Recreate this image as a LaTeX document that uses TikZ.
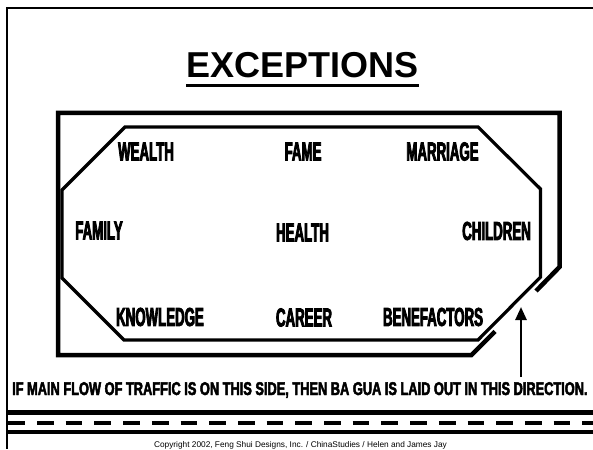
\documentclass[tikz,border=0pt]{standalone}
\usepackage{fontspec}
\setmainfont{Liberation Sans}
\newfontfamily\baguafont{Liberation Sans Bold}[FakeStretch=0.51,FakeBold=3]
\newfontfamily\notefont{Liberation Sans Bold}[FakeStretch=0.692,FakeBold=2.5]
\usetikzlibrary{arrows.meta}

\begin{document}
\begin{tikzpicture}[x=1pt,y=-1pt,
    area/.style={inner sep=0pt,font=\baguafont\fontsize{26}{26}\selectfont},
    wall/.style={line width=4.5pt,line join=miter},
    road/.style={line width=4.5pt}]
                \fill[white] (0,0) rectangle (593,449);
                \useasboundingbox (0,0) rectangle (593,449);

                % page frame
                \draw[line width=1.8pt] (593,8.3) -- (7,8.3) -- (7,449);

                \node[inner sep=0pt,font=\bfseries\fontsize{36}{36}\selectfont] (title) at (302.5,65) {EXCEPTIONS};
                \draw[line width=3pt] ([yshift=-8pt]title.base west) -- ([yshift=-8pt]title.base east);

                % building, open at the door
                \draw[wall] (536,291) -- (559.5,267) -- (559.5,113) -- (58,113) -- (58,355) -- (471.5,355) -- (495,331.5);

                % ba gua
                \draw[line width=3.2pt,line join=miter] (125,127) -- (478,127) -- (540.5,189) -- (540.5,277)
                    -- (478,340) -- (124,340) -- (62,278) -- (62,190) -- cycle;

                \node[area] (wealth)   at (146,151.5)   {WEALTH};
                \node[area] (fame)     at (303,151.5)   {FAME};
                \node[area] (marriage) at (442.5,151.5) {MARRIAGE};

                \node[area] (family)   at (99,230.5)    {FAMILY};
                \node[area] (health)   at (302.5,232.5) {HEALTH};
                \node[area] (children) at (496.5,231)   {CHILDREN};

                \node[area] (knowledge)   at (160,317)   {KNOWLEDGE};
                \node[area] (career)      at (304,317.5) {CAREER};
                \node[area] (benefactors) at (433,317)   {BENEFACTORS};

                \coordinate (doorfoot) at (521,377);
                \coordinate (doortip)  at (521,307);
                \draw[line width=2.5pt,-{Triangle[length=13pt,width=11pt]}] (doorfoot) -- (doortip);

                \node[inner sep=0pt,anchor=base west,font=\notefont\fontsize{18.5}{18.5}\selectfont] (note) at (12,395)
                    {IF MAIN FLOW OF TRAFFIC IS ON THIS SIDE, THEN BA GUA IS LAID OUT IN THIS DIRECTION.};

                % road
                \draw[road] (8,412.3) -- (593,412.3);
                \draw[line width=4pt,dash pattern=on 16.7pt off 12pt] (8.3,422.5) -- (593,422.5);
                \draw[road] (8,432) -- (593,432);

                \node[inner sep=0pt,anchor=base,font=\fontsize{8.3}{8.3}\selectfont] (copyright) at (300.5,447.5)
                    {Copyright 2002, Feng Shui Designs, Inc. / ChinaStudies / Helen and James Jay};
            \end{tikzpicture}
\end{document}
